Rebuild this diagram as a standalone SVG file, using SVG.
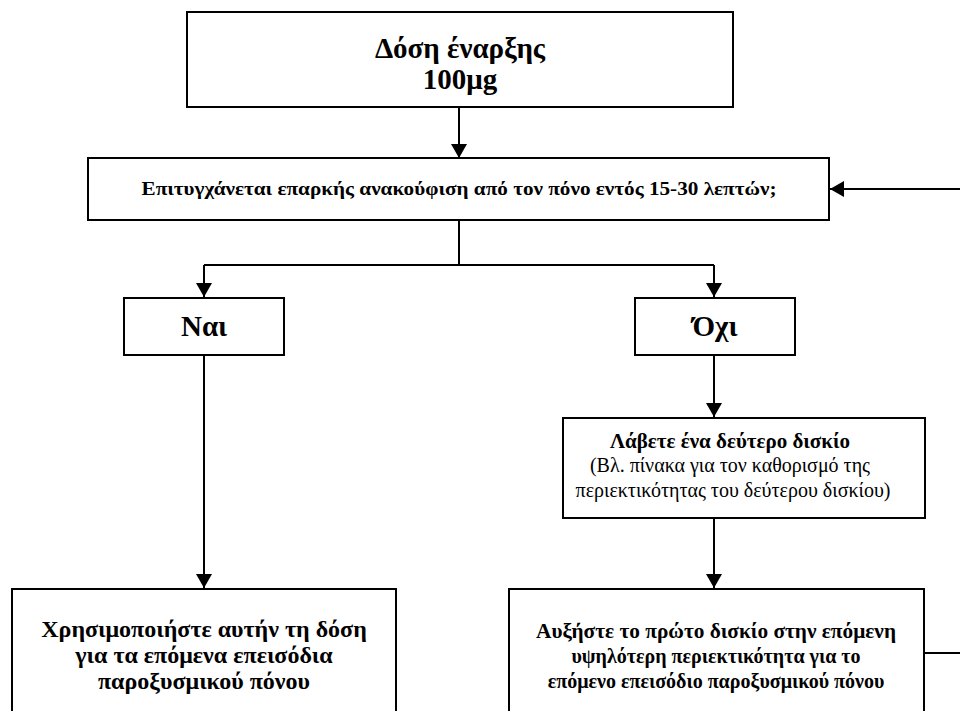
<svg xmlns="http://www.w3.org/2000/svg" width="960" height="711" viewBox="0 0 960 711">
<style>
.box{fill:#fff;stroke:#000;stroke-width:2}
.t{font-family:"Liberation Serif","Times New Roman",serif;fill:#000;text-anchor:middle}
.b{font-weight:bold}
.c{stroke:#000;stroke-width:2;fill:none}
</style>
<defs>
<marker id="av" viewBox="0 0 14 16" markerWidth="14" markerHeight="16" refX="14" refY="8" orient="auto" markerUnits="userSpaceOnUse">
<path d="M0,0 L14,8 L0,16 z" fill="#000"/>
</marker>
</defs>
<rect width="960" height="711" fill="#fff"/>
<g id="connectors">
<path class="c" d="M459,107 V158" marker-end="url(#av)"/>
<path class="c" d="M960,189 H830" marker-end="url(#av)"/>
<path class="c" d="M459,220 V265"/>
<path class="c" d="M204,265 H714"/>
<path class="c" d="M204,265 V297" marker-end="url(#av)"/>
<path class="c" d="M714,265 V297" marker-end="url(#av)"/>
<path class="c" d="M204,355 V588" marker-end="url(#av)"/>
<path class="c" d="M714,355 V417" marker-end="url(#av)"/>
<path class="c" d="M714,518 V588" marker-end="url(#av)"/>
<path class="c" d="M924,653 H960"/>
</g>
<g id="start">
<rect class="box" x="187" y="12" width="546" height="95"/>
<text class="t b" x="460" y="58" font-size="29">Δόση έναρξης</text>
<text class="t b" x="460" y="89" font-size="29">100μg</text>
</g>
<g id="question">
<rect class="box" x="88" y="158" width="741" height="62"/>
<text class="t b" x="459" y="195" font-size="18" textLength="635" lengthAdjust="spacingAndGlyphs">Επιτυγχάνεται επαρκής ανακούφιση από τον πόνο εντός 15-30 λεπτών;</text>
</g>
<g id="yes">
<rect class="box" x="124" y="298" width="160" height="57"/>
<text class="t b" x="204" y="336" font-size="29">Ναι</text>
</g>
<g id="no">
<rect class="box" x="635" y="298" width="160" height="57"/>
<text class="t b" x="715" y="336" font-size="29">Όχι</text>
</g>
<g id="second-tablet">
<rect class="box" x="563" y="418" width="362" height="100"/>
<text class="t b" x="730" y="448" font-size="21">Λάβετε ένα δεύτερο δισκίο</text>
<text class="t" x="730" y="472" font-size="20">(Βλ. πίνακα για τον καθορισμό της</text>
<text class="t" x="733" y="497" font-size="20">περιεκτικότητας του δεύτερου δισκίου)</text>
</g>
<g id="use-dose">
<rect class="box" x="12" y="589" width="384" height="140"/>
<text class="t b" x="204" y="637" font-size="24">Χρησιμοποιήστε αυτήν τη δόση</text>
<text class="t b" x="204" y="663" font-size="24">για τα επόμενα επεισόδια</text>
<text class="t b" x="204" y="689" font-size="24">παροξυσμικού πόνου</text>
</g>
<g id="increase">
<rect class="box" x="509" y="589" width="415" height="140"/>
<text class="t b" x="716" y="638" font-size="20" textLength="360" lengthAdjust="spacingAndGlyphs">Αυξήστε το πρώτο δισκίο στην επόμενη</text>
<text class="t b" x="716" y="663" font-size="20">υψηλότερη περιεκτικότητα για το</text>
<text class="t b" x="716" y="688" font-size="20">επόμενο επεισόδιο παροξυσμικού πόνου</text>
</g>
</svg>
